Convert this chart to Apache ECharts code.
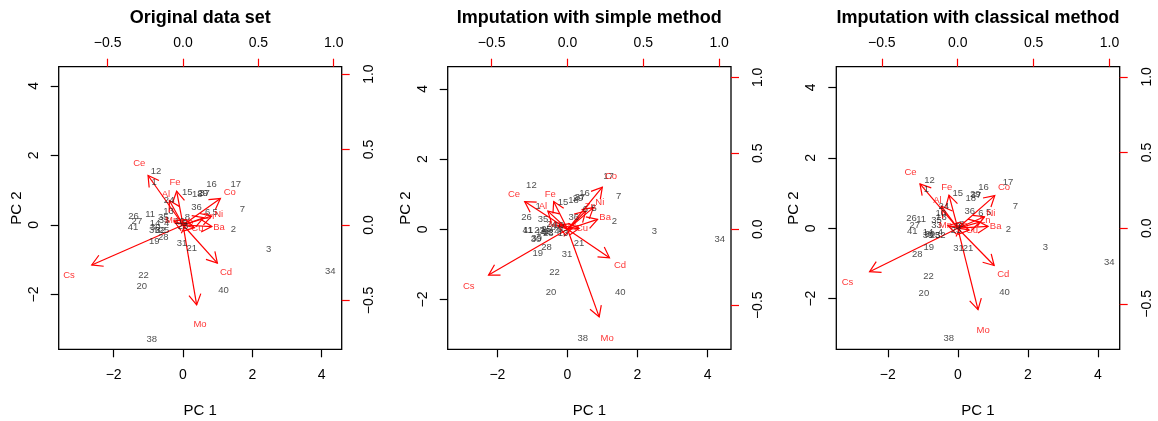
<!DOCTYPE html>
<html>
<head>
<meta charset="utf-8">
<script src="https://cdn.jsdelivr.net/npm/echarts@6/dist/echarts.min.js"></script>
<style>html,body{margin:0;padding:0;background:#fff}#chart{width:1158px;height:421px}</style>
</head>
<body>
<div id="chart"></div>
<script>
// ---------------- DATA ----------------
const titles = ['Original data set', 'Imputation with simple method', 'Imputation with classical method'];
const scoreTicks = [-2, 0, 2, 4];
const loadTicks = [-0.5, 0.0, 0.5, 1.0];
const obsLabels = Array.from({length: 41}, (_, i) => String(i + 1));
const varNames = ['Al','Ba','Cd','Ce','Co','Cs','Cu','Fe','Mn','Mo','Ni','Zn','Pb'];

// PC scores (PC1, PC2) for observations 1..41
const scoresOriginal = [
  [-0.83,1.22],[1.45,-0.12],[2.47,-0.71],[-0.47,0.05],[0.93,0.35],[0.71,0.35],[1.71,0.46],[0.13,0.21],[0.05,0.05],[-0.10,0.10],
  [-0.95,0.31],[-0.78,1.55],[-0.42,0.38],[-0.81,0.05],[0.12,0.94],[0.82,1.16],[1.52,1.16],[0.41,0.88],[-0.83,-0.46],[-1.19,-1.77],
  [0.25,-0.66],[-1.14,-1.44],[0.00,-0.05],[-0.40,0.72],[-0.55,-0.16],[-1.43,0.26],[-1.33,0.11],[-0.57,-0.36],[0.57,0.92],[-0.80,-0.08],
  [-0.03,-0.54],[-0.65,-0.15],[-0.55,0.14],[4.25,-1.32],[-0.57,0.22],[0.39,0.51],[0.62,0.92],[-0.90,-3.28],[-0.83,-0.16],[1.17,-1.87],
  [-1.44,-0.07]
];
const scoresSimple = [
  [-0.84,0.66],[1.34,0.22],[2.48,-0.07],[-0.30,-0.05],[0.76,0.60],[0.51,0.58],[1.46,0.93],[-0.40,0.05],[-0.20,0.00],[-0.25,0.10],
  [-1.13,-0.02],[-1.03,1.24],[-0.13,-0.11],[-0.75,-0.10],[-0.13,0.77],[0.49,1.02],[1.17,1.50],[0.17,0.81],[-0.85,-0.70],[-0.47,-1.79],
  [0.33,-0.39],[-0.37,-1.22],[-0.55,-0.12],[-0.45,0.15],[-0.60,0.00],[-1.17,0.35],[-0.80,-0.02],[-0.60,-0.53],[0.30,0.88],[-0.90,-0.30],
  [-0.01,-0.73],[-0.55,-0.10],[-0.65,-0.05],[4.35,-0.30],[-0.70,0.27],[0.18,0.35],[0.36,0.90],[0.44,-3.12],[-0.88,-0.25],[1.51,-1.81],
  [-1.13,-0.02]
];
const scoresClassical = [
  [-0.90,1.11],[1.44,-0.03],[2.50,-0.53],[-0.50,-0.12],[0.88,0.45],[0.66,0.43],[1.64,0.62],[0.10,0.10],[0.00,0.05],[-0.49,0.43],
  [-1.05,0.24],[-0.81,1.37],[-0.47,0.30],[-0.85,-0.11],[0.00,1.00],[0.73,1.15],[1.43,1.30],[0.37,0.86],[-0.83,-0.55],[-0.97,-1.84],
  [0.29,-0.58],[-0.84,-1.37],[-0.05,-0.05],[-0.40,0.62],[-0.65,-0.20],[-1.32,0.27],[-1.23,0.09],[-1.16,-0.73],[0.50,0.97],[-0.80,-0.17],
  [0.02,-0.58],[-0.50,-0.20],[-0.61,0.07],[4.32,-0.98],[-0.61,0.23],[0.34,0.49],[0.52,0.92],[-0.26,-3.14],[-0.85,-0.20],[1.33,-1.81],
  [-1.30,-0.09]
];

// Variable loadings (label positions; arrows drawn to 0.8 x loading, as R biplot does)
const loadOriginal = [
  [-0.113,0.203],[0.239,-0.013],[0.285,-0.316],[-0.290,0.410],[0.310,0.219],[-0.757,-0.331],[0.095,-0.022],
  [-0.053,0.280],[-0.075,0.033],[0.113,-0.662],[0.237,0.073],[0.170,0.060],[0.030,0.020]
];
const loadSimple = [
  [-0.162,0.149],[0.248,0.081],[0.346,-0.235],[-0.353,0.228],[0.287,0.346],[-0.651,-0.377],[0.096,0.007],
  [-0.114,0.228],[-0.080,0.030],[0.261,-0.721],[0.213,0.178],[0.150,0.150],[0.040,0.010]
];
const loadClassical = [
  [-0.134,0.181],[0.250,0.015],[0.300,-0.308],[-0.311,0.366],[0.305,0.269],[-0.726,-0.359],[0.094,-0.015],
  [-0.072,0.273],[-0.081,0.022],[0.167,-0.672],[0.219,0.095],[0.180,0.050],[0.030,0.020]
];

// ---------------- LAYOUT ----------------
const FONT = '"Liberation Sans", Arial, Helvetica, sans-serif';
const RED = '#ff0000';
const panels = [
  {left: 58.7, width: 283.0, sx: [-3.585, 4.577], sy: [-3.574, 4.55], lx: [-0.825, 1.053], ly: [-0.824, 1.049], scores: scoresOriginal, loads: loadOriginal},
  {left: 447.7, width: 283.3, sx: [-3.42, 4.67], sy: [-3.42, 4.63], lx: [-0.79, 1.078], ly: [-0.79, 1.07], scores: scoresSimple, loads: loadSimple},
  {left: 836.3, width: 283.4, sx: [-3.47, 4.62], sy: [-3.44, 4.59], lx: [-0.80, 1.067], ly: [-0.80, 1.067], scores: scoresClassical, loads: loadClassical}
];
const GTOP = 66.7, GH = 282.6;
const minus = v => String(v).replace('-', '\u2212');
const fmtLoad = v => minus(Number(v).toFixed(1));

const grid = [], xAxis = [], yAxis = [], series = [], graphic = [];

function arrowItem(params, api) {
  const x = api.value(0) * 0.8, y = api.value(1) * 0.8;
  const p0 = api.coord([0, 0]);
  const p1 = api.coord([x, y]);
  const ang = Math.atan2(p1[1] - p0[1], p1[0] - p0[0]);
  const L = 12, a = Math.PI / 6;
  const h1 = [p1[0] - L * Math.cos(ang - a), p1[1] - L * Math.sin(ang - a)];
  const h2 = [p1[0] - L * Math.cos(ang + a), p1[1] - L * Math.sin(ang + a)];
  return {
    type: 'group',
    children: [
      {type: 'line', shape: {x1: p0[0], y1: p0[1], x2: p1[0], y2: p1[1]}, style: {stroke: RED, lineWidth: 1.2}},
      {type: 'polyline', shape: {points: [h1, p1, h2]}, style: {stroke: RED, lineWidth: 1.2, fill: 'none'}}
    ]
  };
}

panels.forEach((p, i) => {
  grid.push({left: p.left, top: GTOP, width: p.width, height: GH, show: true, borderColor: '#000', borderWidth: 1.3, backgroundColor: 'transparent', containLabel: false});
  const tickStyle = c => ({show: true, inside: false, length: 8, lineStyle: {color: c, width: 1.2}});
  const noLine = {show: false, onZero: false};
  // bottom scores axis
  xAxis.push({gridIndex: i, type: 'value', position: 'bottom', min: p.sx[0], max: p.sx[1],
    axisLine: noLine, splitLine: {show: false},
    axisTick: Object.assign(tickStyle('#000'), {customValues: scoreTicks}),
    axisLabel: {customValues: scoreTicks, formatter: minus, fontFamily: FONT, fontSize: 14, color: '#000', margin: 19}});
  // top loadings axis
  xAxis.push({gridIndex: i, type: 'value', position: 'top', min: p.lx[0], max: p.lx[1],
    axisLine: noLine, splitLine: {show: false},
    axisTick: Object.assign(tickStyle(RED), {customValues: loadTicks}),
    axisLabel: {customValues: loadTicks, formatter: fmtLoad, fontFamily: FONT, fontSize: 14, color: '#000', margin: 17}});
  // left scores axis
  yAxis.push({gridIndex: i, type: 'value', position: 'left', min: p.sy[0], max: p.sy[1],
    axisLine: noLine, splitLine: {show: false},
    axisTick: Object.assign(tickStyle('#000'), {customValues: scoreTicks}),
    axisLabel: {customValues: scoreTicks, formatter: minus, rotate: 90, fontFamily: FONT, fontSize: 14, color: '#000', margin: 18}});
  // right loadings axis
  yAxis.push({gridIndex: i, type: 'value', position: 'right', min: p.ly[0], max: p.ly[1],
    axisLine: noLine, splitLine: {show: false},
    axisTick: Object.assign(tickStyle(RED), {customValues: loadTicks}),
    axisLabel: {customValues: loadTicks, formatter: fmtLoad, rotate: 90, fontFamily: FONT, fontSize: 14, color: '#000', margin: 20}});

  const xs = 2 * i, xl = 2 * i + 1;
  series.push({
    type: 'scatter', xAxisIndex: xs, yAxisIndex: xs, symbolSize: 0, silent: true,
    data: p.scores.map((s, k) => [s[0], s[1], obsLabels[k]]),
    label: {show: true, position: 'inside', formatter: d => d.value[2], color: '#222', fontFamily: FONT, fontSize: 9.5}
  });
  series.push({
    type: 'custom', xAxisIndex: xl, yAxisIndex: xl, silent: true, clip: false,
    renderItem: arrowItem,
    data: p.loads.map(l => [l[0], l[1]])
  });
  series.push({
    type: 'scatter', xAxisIndex: xl, yAxisIndex: xl, symbolSize: 0, silent: true,
    data: p.loads.map((l, k) => [l[0], l[1], varNames[k]]),
    label: {show: true, position: 'inside', formatter: d => d.value[2], color: RED, fontFamily: FONT, fontSize: 9.5}
  });

  const cx = p.left + p.width / 2;
  graphic.push({type: 'text', x: cx, y: 18.5, style: {text: titles[i], fontFamily: FONT, fontSize: 18, fontWeight: 'bold', fill: '#000', align: 'center', verticalAlign: 'middle'}});
  graphic.push({type: 'text', x: cx, y: 410.5, style: {text: 'PC 1', fontFamily: FONT, fontSize: 15, fill: '#000', align: 'center', verticalAlign: 'middle'}});
  graphic.push({type: 'text', x: p.left - 42, y: GTOP + GH / 2, rotation: Math.PI / 2, style: {text: 'PC 2', fontFamily: FONT, fontSize: 15, fill: '#000', align: 'center', verticalAlign: 'middle'}});
});

const chart = echarts.init(document.getElementById('chart'), null, {renderer: 'canvas'});
chart.setOption({animation: false, backgroundColor: '#fff', grid, xAxis, yAxis, series, graphic});
</script>
</body>
</html>
